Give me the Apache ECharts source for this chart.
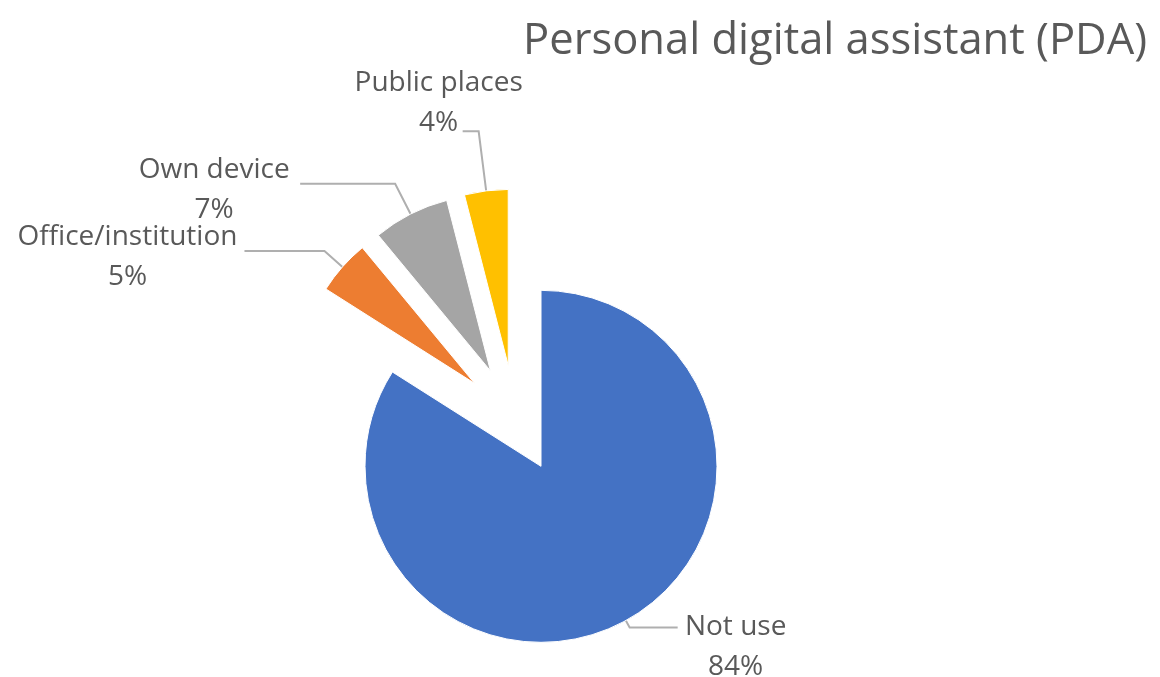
<!DOCTYPE html>
<html>
<head>
<meta charset="utf-8">
<script src="https://cdn.jsdelivr.net/npm/echarts@6/dist/echarts.min.js"></script>
<style>
  html, body { margin: 0; padding: 0; background: #ffffff; }
  #chart { width: 1160px; height: 677px; }
</style>
</head>
<body>
<div id="chart"></div>
<script>
// Places where respondents use a personal digital assistant (share, %)
const categories = ['Not use', 'Office/institution', 'Own device', 'Public places'];
const shares = [84, 5, 7, 4];
const colors = ['#4472C4', '#ED7D31', '#A5A5A5', '#FFC000'];

// Pie geometry and slice explosion
const pieCenter = [515, 419];
const pieRadius = 176;
const explode = 54;

// Leader line segment lengths per slice
const lineLengths = [8, 24, 34, 60];
const lineLengths2 = [48, 80, 95, 16];
// Label block centre relative to the leader line end
const labelShiftX = [58, -117, -86, -24];
const labelShiftY = [19, 6, 6, -28];

const chart = echarts.init(document.getElementById('chart'), null, { renderer: 'canvas' });

// Filled, exploded slices
const sliceData = categories.map((name, i) => ({
  name: name,
  value: shares[i],
  selected: true,
  itemStyle: { color: colors[i] }
}));

// Same slices, unfilled, carrying the labels and leader lines
const labelData = categories.map((name, i) => ({
  name: name,
  value: shares[i],
  labelLine: { length: lineLengths[i], length2: lineLengths2[i] }
}));

// Move a leader line outward with its exploded slice
function explodedLine(points) {
  const dx = points[0][0] - pieCenter[0];
  const dy = points[0][1] - pieCenter[1];
  const len = Math.sqrt(dx * dx + dy * dy) || 1;
  const ox = dx / len * explode;
  const oy = dy / len * explode;
  return points.map(p => [p[0] + ox, p[1] + oy]);
}

chart.setOption({
  animation: false,
  title: {
    text: 'Personal digital assistant (PDA)',
    right: 8,
    top: 15,
    textStyle: {
      fontFamily: 'Open Sans',
      fontSize: 43.5,
      fontWeight: 'normal',
      color: '#595959'
    }
  },
  series: [{
    type: 'pie',
    center: pieCenter,
    radius: pieRadius,
    startAngle: 90,
    clockwise: true,
    selectedMode: 'multiple',
    selectedOffset: explode,
    itemStyle: { borderColor: '#ffffff', borderWidth: 1 },
    emphasis: { disabled: true },
    label: { show: false },
    labelLine: { show: false },
    data: sliceData
  }, {
    type: 'pie',
    center: pieCenter,
    radius: pieRadius,
    startAngle: 90,
    clockwise: true,
    silent: true,
    avoidLabelOverlap: false,
    itemStyle: { color: 'rgba(255,255,255,0)', borderWidth: 0 },
    emphasis: { disabled: true },
    label: {
      show: true,
      position: 'outside',
      alignTo: 'none',
      distanceToLabelLine: 0,
      formatter: '{b}\n{d}%',
      fontFamily: 'Open Sans',
      fontSize: 28,
      lineHeight: 40,
      color: '#595959',
      opacity: 1
    },
    labelLine: {
      show: true,
      lineStyle: { color: '#AFAFAF', width: 2, opacity: 1 }
    },
    labelLayout: function (params) {
      const i = params.dataIndex;
      const pts = explodedLine(params.labelLinePoints);
      const end = pts[pts.length - 1];
      return {
        x: end[0] + labelShiftX[i],
        y: end[1] + labelShiftY[i],
        align: 'center',
        verticalAlign: 'middle',
        labelLinePoints: pts
      };
    },
    data: labelData
  }]
});
</script>
</body>
</html>
